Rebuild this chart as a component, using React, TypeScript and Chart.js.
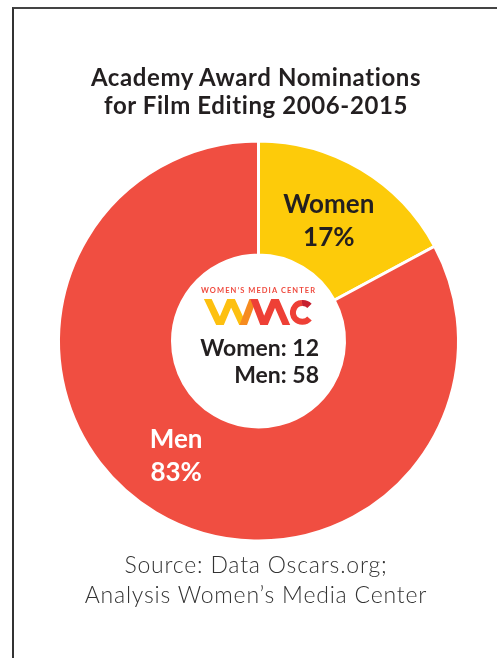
import React, { useEffect, useRef } from 'react';
import { Chart, registerables } from 'chart.js';

Chart.register(...registerables);

const titleLines = ['Academy Award Nominations', 'for Film Editing 2006-2015'];
const categories = ['Women', 'Men'];
const nominations = [12, 58];
const sourceLines = ['Source: Data Oscars.org;', 'Analysis Women\u2019s Media Center'];
const logoCaption = 'WOMEN\u2019S MEDIA CENTER';

const sliceColors = ['#FDCB0A', '#F04E41'];
const labelColors = ['#231F20', '#FFFFFF'];
const labelOffsets = [[-3, 2], [-9, -9]];

export default function App() {
  const ref = useRef<HTMLCanvasElement>(null);

  useEffect(() => {
    if (!ref.current) return;
    const total = nominations.reduce((a, b) => a + b, 0);
    const sliceLabels = {
      id: 'sliceLabels',
      afterDatasetsDraw(chart: any) {
        const ctx = chart.ctx;
        const meta = chart.getDatasetMeta(0);
        meta.data.forEach((arc: any, i: number) => {
          const p = arc.getProps(['x', 'y', 'startAngle', 'endAngle', 'innerRadius', 'outerRadius'], true);
          const a = (p.startAngle + p.endAngle) / 2;
          const r = (p.innerRadius + p.outerRadius) / 2;
          const cx = p.x + Math.cos(a) * r + labelOffsets[i][0];
          const cy = p.y + Math.sin(a) * r + labelOffsets[i][1];
          ctx.save();
          ctx.fillStyle = labelColors[i];
          ctx.font = 'bold 26px Lato';
          ctx.textAlign = 'center';
          ctx.textBaseline = 'alphabetic';
          const pct = Math.round((nominations[i] / total) * 100) + '%';
          ctx.fillText(categories[i], cx, cy - 7);
          ctx.fillText(pct, cx, cy + 26);
          ctx.restore();
        });
      },
    };

    const chart = new Chart(ref.current, {
      type: 'doughnut',
      data: {
        labels: categories,
        datasets: [
          {
            data: nominations,
            backgroundColor: sliceColors,
            borderColor: '#FFFFFF',
            borderWidth: 3,
          },
        ],
      },
      options: {
        animation: false,
        responsive: false,
        maintainAspectRatio: false,
        devicePixelRatio: 1,
        cutout: '43%',
        layout: { padding: { left: 57, right: 37, top: 139, bottom: 115 } },
        plugins: {
          legend: { display: false },
          tooltip: { enabled: false },
          title: { display: false },
        },
      },
      plugins: [sliceLabels],
    });
    return () => chart.destroy();
  }, []);

  return (
    <div style={{ position: 'absolute', left: 0, top: 0, width: 497, height: 658, overflow: 'hidden', background: '#fff', fontFamily: 'Lato, sans-serif' }}>
      <div style={{ position: 'absolute', left: 12, top: 7, width: 600, height: 700, borderLeft: '2px solid #333', borderTop: '2px solid #444' }} />
      <canvas ref={ref} width={497} height={658} style={{ position: 'absolute', left: 0, top: 0 }} />
      <div style={{ position: 'absolute', left: 0, width: 512, top: 63, textAlign: 'center', fontSize: 24, lineHeight: '28px', fontWeight: 700, letterSpacing: '0.6px', color: '#231F20' }}>
        {titleLines.map((t) => (
          <div key={t}>{t}</div>
        ))}
      </div>
      <div style={{ position: 'absolute', right: 178, top: 334, textAlign: 'right', fontSize: 23, lineHeight: '27px', fontWeight: 700, color: '#231F20' }}>
        <div>{categories[0]}: {nominations[0]}</div>
        <div>{categories[1]}: {nominations[1]}</div>
      </div>
      <div style={{ position: 'absolute', left: 0, width: 512, top: 549, textAlign: 'center', fontSize: 23, lineHeight: '30px', fontWeight: 300, letterSpacing: '0.8px', color: '#333' }}>
        {sourceLines.map((t) => (
          <div key={t}>{t}</div>
        ))}
      </div>
      <svg width={497} height={658} style={{ position: 'absolute', left: 0, top: 0, pointerEvents: 'none' }}>
        <defs>
          <clipPath id="logoclip">
            <rect x={200} y={299} width={120} height={26} />
          </clipPath>
        </defs>
        <text x={258} y={293} textAnchor="middle" fontFamily="Lato, sans-serif" fontWeight={700} fontSize={7.5} fill="#EF4A3E" textLength={114} lengthAdjust="spacing">
          {logoCaption}
        </text>
        <g clipPath="url(#logoclip)" fill="none" strokeWidth={7} strokeLinejoin="miter">
          <polyline points="204,291 220,325 231,299 244,327" stroke="#FDC010" />
          <polyline points="241,331 255,294" stroke="#F68B1F" />
          <polyline points="251,291 264,325 275,299 289,331" stroke="#EE4036" />
        </g>
        <path d="M 302 303 A 9.5 9.5 0 0 0 295.3 318.7 A 9.5 9.5 0 0 0 309.5 318.5" fill="none" stroke="#EE4036" strokeWidth={6} />
        <path d="M 309.5 305.8 A 9.5 9.5 0 0 0 302 303" fill="none" stroke="#C7202F" strokeWidth={6} />
      </svg>
    </div>
  );
}
